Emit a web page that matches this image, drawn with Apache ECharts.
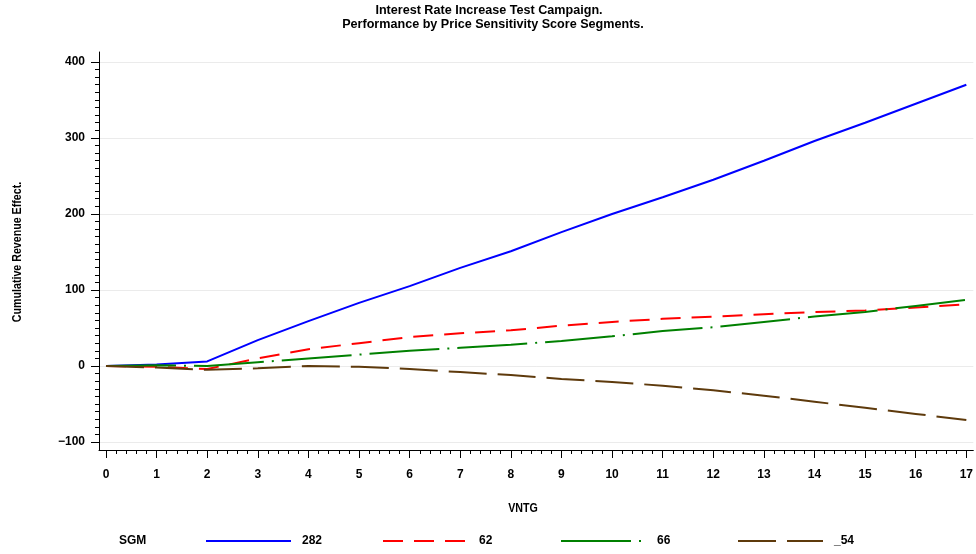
<!DOCTYPE html>
<html>
<head>
<meta charset="utf-8">
<script src="https://cdn.jsdelivr.net/npm/echarts@6/dist/echarts.min.js"></script>
<style>html,body{margin:0;padding:0;background:#fff}#c{width:976px;height:554px}</style>
</head>
<body>
<div id="c"></div>
<script>
const titleLines = ['Interest Rate Increase Test Campaign.', 'Performance by Price Sensitivity Score Segments.'];
const xName = 'VNTG';
const yName = 'Cumulative Revenue Effect.';
const legendTitle = 'SGM';
const vntg = [0,1,2,3,4,5,6,7,8,9,10,11,12,13,14,15,16,17];
const xTicks = [0,1,2,3,4,5,6,7,8,9,10,11,12,13,14,15,16,17];
const yTicks = [-100,0,100,200,300,400];
const seriesNames = ['282','62','66','_54'];
const s282 = [0,2,6,34,59,83,105,129,151,176,200,222,245,270,296,320,345,370];
const s62  = [0,-1,-4,10,22,30,38,43,47,53,58,62,65,68,71,73,77,81];
const s66  = [0,1,0,5,10,15,20,24,28,33,39,46,51,58,65,71,79,87];
const s54  = [0,-2,-5,-3,0,-1,-4,-8,-12,-17,-21,-26,-32,-39,-47,-55,-63,-71];

const colors = ['#0000FF','#FF0000','#008000','#5E3A0C'];
const dashes = ['solid',[20,11],[70,8,2,8],[38,11]];
const dataSets = [s282, s62, s66, s54];

const xMinor = [];
for (let i = 0; i < xTicks.length - 1; i++) for (let k = 1; k < 5; k++) xMinor.push(+(xTicks[i] + k*0.2).toFixed(2));
const yMinor = [];
for (let i = 0; i < yTicks.length - 1; i++) for (let k = 1; k < 10; k++) yMinor.push(yTicks[i] + k*10);

const font = '"Liberation Sans", Arial, sans-serif';
const chart = echarts.init(document.getElementById('c'));

const legendX = [205, 382, 560, 737];
const option = {
  animation: false,
  backgroundColor: '#fff',
  grid: {left: 99, right: 0, top: 52, bottom: 104, containLabel: false},
  xAxis: [
    {type: 'value', min: -0.138, max: 17.138,
     axisLine: {show: true, onZero: false, lineStyle: {color: '#000', width: 1}},
     axisTick: {show: true, customValues: xTicks, length: 8, lineStyle: {color: '#000'}},
     axisLabel: {customValues: xTicks, margin: 19, fontFamily: font, fontSize: 12, fontWeight: 'bold', color: '#000'},
     splitLine: {show: false}},
    {type: 'value', min: -0.138, max: 17.138, gridIndex: 0, position: 'bottom',
     axisLine: {show: false, onZero: false},
     axisTick: {show: true, customValues: xMinor, length: 4, lineStyle: {color: '#000'}},
     axisLabel: {show: false},
     splitLine: {show: false}}
  ],
  yAxis: [
    {type: 'value', min: -110.5, max: 413,
     axisLine: {show: true, onZero: false, lineStyle: {color: '#000', width: 1}},
     axisTick: {show: true, customValues: yTicks, length: 8, lineStyle: {color: '#000'}},
     axisLabel: {customValues: yTicks, margin: 14, fontFamily: font, fontSize: 12, fontWeight: 'bold', color: '#000',
       formatter: v => String(v).replace('-', '\u2212')},
     splitLine: {show: true, lineStyle: {color: '#ebebeb', width: 1}}},
    {type: 'value', min: -110.5, max: 413, position: 'left',
     axisLine: {show: false, onZero: false},
     axisTick: {show: true, customValues: yMinor, length: 4, lineStyle: {color: '#000'}},
     axisLabel: {show: false},
     splitLine: {show: false}}
  ],
  legend: seriesNames.map((n, i) => ({
    data: [n], left: legendX[i], top: 535, itemWidth: 85, itemHeight: 14, itemGap: 0,
    itemStyle: {opacity: 0},
    textStyle: {fontFamily: font, fontSize: 12, fontWeight: 'bold', color: '#000', padding: [0,0,0,6]},
    padding: 0, selectedMode: false
  })),
  graphic: [
    {type: 'text', x: 489, y: 11, style: {text: titleLines[0], font: 'bold 12.6px ' + font, fill: '#000', align: 'center', verticalAlign: 'middle'}},
    {type: 'text', x: 493, y: 25, style: {text: titleLines[1], font: 'bold 12.6px ' + font, fill: '#000', align: 'center', verticalAlign: 'middle'}},
    {type: 'text', x: 119, y: 541, style: {text: legendTitle, font: 'bold 12px ' + font, fill: '#000', align: 'left', verticalAlign: 'middle'}},
    {type: 'text', x: 523, y: 508, scaleX: 0.82, style: {text: xName, font: 'bold 13px ' + font, fill: '#000', align: 'center', verticalAlign: 'middle'}},
    {type: 'text', x: 17, y: 252, rotation: Math.PI/2, scaleX: 0.82, style: {text: yName, font: 'bold 13px ' + font, fill: '#000', align: 'center', verticalAlign: 'middle'}}
  ],
  series: seriesNames.map((n, i) => ({
    name: n, type: 'line', xAxisIndex: 0, yAxisIndex: 0,
    data: vntg.map((x, j) => [x, dataSets[i][j]]),
    symbol: 'none', showSymbol: false, smooth: false,
    lineStyle: {color: colors[i], width: 2, type: dashes[i]},
    itemStyle: {color: colors[i]}
  }))
};
chart.setOption(option);
</script>
</body>
</html>
